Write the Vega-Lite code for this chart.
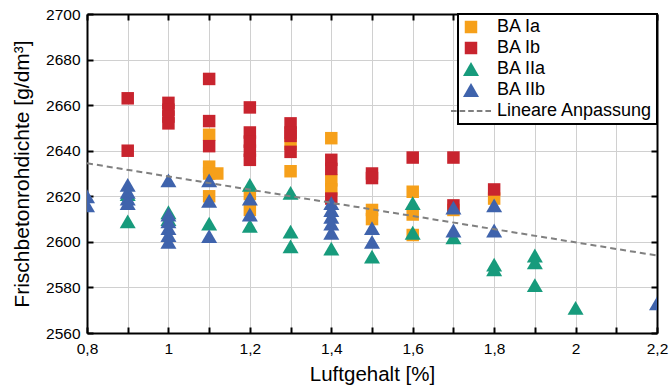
{
  "$schema": "https://vega.github.io/schema/vega-lite/v6.json",
  "width": 570,
  "height": 319,
  "autosize": {"type": "none"},
  "padding": {"left": 87, "top": 14, "right": 13, "bottom": 57},
  "background": "white",
  "config": {
    "font": "Liberation Sans",
    "view": {"stroke": null},
    "axis": {
      "domainColor": "black",
      "domainWidth": 2,
      "tickColor": "black",
      "tickWidth": 2,
      "tickSize": -6,
      "gridColor": "#d0d0d0",
      "gridWidth": 1,
      "labelFont": "Liberation Sans",
      "labelFontSize": 15.5,
      "labelColor": "black",
      "titleFont": "Liberation Sans",
      "titleFontSize": 20.5,
      "titleFontWeight": "normal",
      "titleColor": "black"
    }
  },
  "datasets": {
    "points": [
      {"s": "BA Ia", "x": 1.1, "y": 2647},
      {"s": "BA Ia", "x": 1.1, "y": 2633},
      {"s": "BA Ia", "x": 1.1, "y": 2630},
      {"s": "BA Ia", "x": 1.1, "y": 2620},
      {"s": "BA Ia", "x": 1.12, "y": 2630},
      {"s": "BA Ia", "x": 1.2, "y": 2621},
      {"s": "BA Ia", "x": 1.2, "y": 2614},
      {"s": "BA Ia", "x": 1.3, "y": 2643},
      {"s": "BA Ia", "x": 1.3, "y": 2631},
      {"s": "BA Ia", "x": 1.4, "y": 2645.5},
      {"s": "BA Ia", "x": 1.4, "y": 2627},
      {"s": "BA Ia", "x": 1.4, "y": 2623},
      {"s": "BA Ia", "x": 1.5, "y": 2614},
      {"s": "BA Ia", "x": 1.5, "y": 2610},
      {"s": "BA Ia", "x": 1.6, "y": 2622},
      {"s": "BA Ia", "x": 1.6, "y": 2612},
      {"s": "BA Ia", "x": 1.6, "y": 2603},
      {"s": "BA Ia", "x": 1.7, "y": 2614},
      {"s": "BA Ia", "x": 1.8, "y": 2619},
      {"s": "BA Ib", "x": 0.9, "y": 2663},
      {"s": "BA Ib", "x": 0.9, "y": 2640},
      {"s": "BA Ib", "x": 1.0, "y": 2661},
      {"s": "BA Ib", "x": 1.0, "y": 2658},
      {"s": "BA Ib", "x": 1.0, "y": 2655},
      {"s": "BA Ib", "x": 1.0, "y": 2652},
      {"s": "BA Ib", "x": 1.1, "y": 2671.5},
      {"s": "BA Ib", "x": 1.1, "y": 2653},
      {"s": "BA Ib", "x": 1.1, "y": 2642},
      {"s": "BA Ib", "x": 1.2, "y": 2659},
      {"s": "BA Ib", "x": 1.2, "y": 2648},
      {"s": "BA Ib", "x": 1.2, "y": 2644},
      {"s": "BA Ib", "x": 1.2, "y": 2640},
      {"s": "BA Ib", "x": 1.2, "y": 2636},
      {"s": "BA Ib", "x": 1.3, "y": 2652},
      {"s": "BA Ib", "x": 1.3, "y": 2648},
      {"s": "BA Ib", "x": 1.3, "y": 2646.5},
      {"s": "BA Ib", "x": 1.3, "y": 2639.5},
      {"s": "BA Ib", "x": 1.4, "y": 2636},
      {"s": "BA Ib", "x": 1.4, "y": 2632},
      {"s": "BA Ib", "x": 1.4, "y": 2619},
      {"s": "BA Ib", "x": 1.5, "y": 2630},
      {"s": "BA Ib", "x": 1.5, "y": 2628},
      {"s": "BA Ib", "x": 1.6, "y": 2637},
      {"s": "BA Ib", "x": 1.7, "y": 2637},
      {"s": "BA Ib", "x": 1.7, "y": 2616},
      {"s": "BA Ib", "x": 1.8, "y": 2623},
      {"s": "BA IIa", "x": 0.9, "y": 2621},
      {"s": "BA IIa", "x": 0.9, "y": 2609},
      {"s": "BA IIa", "x": 1.0, "y": 2613},
      {"s": "BA IIa", "x": 1.0, "y": 2610},
      {"s": "BA IIa", "x": 1.1, "y": 2608},
      {"s": "BA IIa", "x": 1.2, "y": 2625},
      {"s": "BA IIa", "x": 1.2, "y": 2607},
      {"s": "BA IIa", "x": 1.3, "y": 2621.5},
      {"s": "BA IIa", "x": 1.3, "y": 2604.5},
      {"s": "BA IIa", "x": 1.3, "y": 2598},
      {"s": "BA IIa", "x": 1.4, "y": 2597},
      {"s": "BA IIa", "x": 1.5, "y": 2593.5},
      {"s": "BA IIa", "x": 1.6, "y": 2617},
      {"s": "BA IIa", "x": 1.6, "y": 2604},
      {"s": "BA IIa", "x": 1.7, "y": 2602},
      {"s": "BA IIa", "x": 1.8, "y": 2590},
      {"s": "BA IIa", "x": 1.8, "y": 2588},
      {"s": "BA IIa", "x": 1.9, "y": 2594},
      {"s": "BA IIa", "x": 1.9, "y": 2591},
      {"s": "BA IIa", "x": 1.9, "y": 2581},
      {"s": "BA IIa", "x": 2.0, "y": 2571},
      {"s": "BA IIb", "x": 0.8, "y": 2620},
      {"s": "BA IIb", "x": 0.8, "y": 2616},
      {"s": "BA IIb", "x": 0.9, "y": 2625},
      {"s": "BA IIb", "x": 0.9, "y": 2622},
      {"s": "BA IIb", "x": 0.9, "y": 2619},
      {"s": "BA IIb", "x": 0.9, "y": 2617},
      {"s": "BA IIb", "x": 1.0, "y": 2627},
      {"s": "BA IIb", "x": 1.0, "y": 2612},
      {"s": "BA IIb", "x": 1.0, "y": 2609},
      {"s": "BA IIb", "x": 1.0, "y": 2606},
      {"s": "BA IIb", "x": 1.0, "y": 2603},
      {"s": "BA IIb", "x": 1.0, "y": 2600},
      {"s": "BA IIb", "x": 1.1, "y": 2627},
      {"s": "BA IIb", "x": 1.1, "y": 2618},
      {"s": "BA IIb", "x": 1.1, "y": 2602.5},
      {"s": "BA IIb", "x": 1.2, "y": 2619},
      {"s": "BA IIb", "x": 1.2, "y": 2612},
      {"s": "BA IIb", "x": 1.4, "y": 2617},
      {"s": "BA IIb", "x": 1.4, "y": 2614},
      {"s": "BA IIb", "x": 1.4, "y": 2611},
      {"s": "BA IIb", "x": 1.4, "y": 2608},
      {"s": "BA IIb", "x": 1.4, "y": 2604},
      {"s": "BA IIb", "x": 1.5, "y": 2606},
      {"s": "BA IIb", "x": 1.5, "y": 2600},
      {"s": "BA IIb", "x": 1.7, "y": 2615},
      {"s": "BA IIb", "x": 1.7, "y": 2605},
      {"s": "BA IIb", "x": 1.8, "y": 2616},
      {"s": "BA IIb", "x": 1.8, "y": 2605},
      {"s": "BA IIb", "x": 2.2, "y": 2573}
    ],
    "fit": [
      {"x": 0.8, "y": 2634.5},
      {"x": 2.2, "y": 2594}
    ]
  },
  "layer": [
    {
      "data": {"name": "points"},
      "mark": {"type": "point", "filled": true, "opacity": 1, "strokeWidth": 0, "clip": true},
      "encoding": {
        "x": {
          "field": "x", "type": "quantitative",
          "scale": {"domain": [0.8, 2.2], "nice": false, "zero": false},
          "axis": {
            "orient": "bottom",
            "title": "Luftgehalt [%]",
            "values": [0.8, 0.9, 1.0, 1.1, 1.2, 1.3, 1.4, 1.5, 1.6, 1.7, 1.8, 1.9, 2.0, 2.1, 2.2],
            "labelExpr": "round(datum.value * 10) % 2 == 0 ? replace(format(datum.value, '.1~f'), '.', ',') : ''",
            "labelPadding": 14,
            "labelFlush": false,
            "titlePadding": 8
          }
        },
        "y": {
          "field": "y", "type": "quantitative",
          "scale": {"domain": [2560, 2700], "nice": false, "zero": false},
          "axis": {
            "orient": "left",
            "title": "Frischbetonrohdichte [g/dm³]",
            "titleFontSize": 21,
            "values": [2560, 2580, 2600, 2620, 2640, 2660, 2680, 2700],
            "format": "d",
            "labelPadding": 13,
            "labelFlush": false,
            "titlePadding": 13
          }
        },
        "color": {
          "field": "s", "type": "nominal",
          "scale": {
            "domain": ["BA Ia", "BA Ib", "BA IIa", "BA IIb", "Lineare Anpassung"],
            "range": ["#F6A01A", "#C8242E", "#179B7C", "#3F63AC", "#7F7F7F"]
          },
          "legend": {
            "title": null,
            "orient": "top-right",
            "offset": 0,
            "fillColor": "white",
            "strokeColor": "black",
            "padding": 4,
            "labelFont": "Liberation Sans",
            "labelFontSize": 18,
            "labelColor": "black",
            "labelOffset": 17,
            "rowPadding": 3,
            "symbolStrokeWidth": 0,
            "symbolOpacity": 1,
            "encode": {"legend": {"update": {"strokeWidth": {"value": 2}}}}
          }
        },
        "shape": {
          "field": "s", "type": "nominal",
          "scale": {
            "domain": ["BA Ia", "BA Ib", "BA IIa", "BA IIb", "Lineare Anpassung"],
            "range": ["square", "square", "triangle-up", "triangle-up", "M-2.5,-0.125H-1.8V0.125H-2.5Z M-1.425,-0.125H-0.725V0.125H-1.425Z M-0.35,-0.125H0.35V0.125H-0.35Z M0.725,-0.125H1.425V0.125H0.725Z M1.8,-0.125H2.5V0.125H1.8Z"]
          },
          "legend": {"title": null}
        },
        "size": {
          "field": "s", "type": "nominal",
          "scale": {
            "type": "ordinal",
            "domain": ["BA Ia", "BA Ib", "BA IIa", "BA IIb", "Lineare Anpassung"],
            "range": [156, 156, 256, 256, 256]
          },
          "legend": {"title": null}
        }
      }
    },
    {
      "data": {"name": "fit"},
      "mark": {"type": "line", "color": "#808080", "strokeDash": [6, 4], "strokeWidth": 2, "clip": true},
      "encoding": {
        "x": {
          "field": "x", "type": "quantitative",
          "axis": {
            "orient": "top", "title": null, "labels": false, "grid": false,
            "values": [0.8, 0.9, 1.0, 1.1, 1.2, 1.3, 1.4, 1.5, 1.6, 1.7, 1.8, 1.9, 2.0, 2.1, 2.2]
          }
        },
        "y": {
          "field": "y", "type": "quantitative",
          "axis": {
            "orient": "right", "title": null, "labels": false, "grid": false,
            "values": [2560, 2580, 2600, 2620, 2640, 2660, 2680, 2700]
          }
        }
      }
    }
  ],
  "resolve": {"axis": {"x": "independent", "y": "independent"}}
}
